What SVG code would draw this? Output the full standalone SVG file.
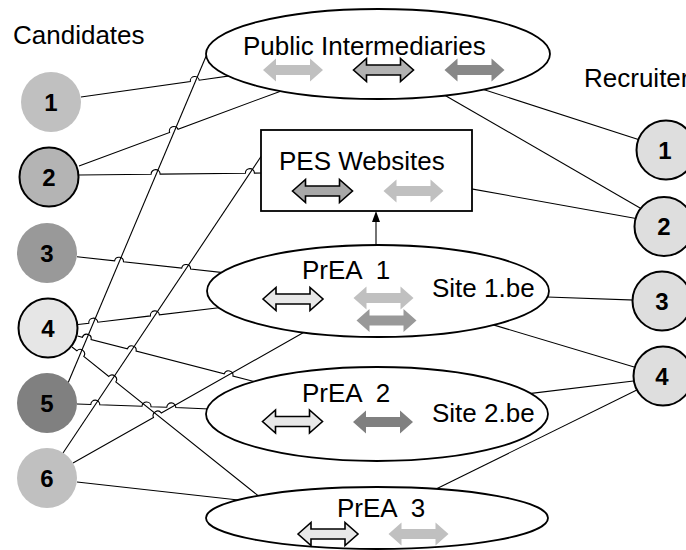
<svg xmlns="http://www.w3.org/2000/svg" xmlns:xlink="http://www.w3.org/1999/xlink" width="686" height="550" viewBox="0 0 686 550">
  <style>
    .lbl { font-family: "Liberation Sans", Arial, sans-serif; font-size: 26px; fill: #000; }
    .num { font-family: "Liberation Sans", Arial, sans-serif; font-size: 24px; font-weight: bold; fill: #000; text-anchor: middle; }
    .edge { fill: none; stroke: #000; stroke-width: 1.1; }
    .shape { fill: #fff; stroke: #000; stroke-width: 1.8; }
    .ring { stroke: #000; stroke-width: 2; }
    .out { stroke: #000; stroke-width: 1.6; stroke-linejoin: miter; }
  </style>
  <defs>
    <!-- two-headed arrow glyph, centred on the origin -->
    <path id="dbl" d="M-30,0 L-17,-11.5 L-17,-5 L17,-5 L17,-11.5 L30,0 L17,11.5 L17,5 L-17,5 L-17,11.5 Z"/>
  </defs>
  <rect width="686" height="550" fill="#fff"/>

  <!-- connectors (hops mark where a line passes over another) -->
  <g id="connectors" class="edge">
    <path d="M81,97 L190.3,81.5 A4.5,4.5 0 0 1 199.2,80.2 L235,75.1"/>
    <path d="M79,166 L169.6,132.4 A4.5,4.5 0 0 1 178,129.2 L284,89.9"/>
    <path d="M79,175 L151.1,174.2 A4.5,4.5 0 0 1 160.1,174.1 L245.4,173.2 A4.5,4.5 0 0 1 254.4,173.1 L263,173"/>
    <path d="M77,256.7 L114.6,260.8 A4.5,4.5 0 0 1 123.5,261.8 L181.7,268.1 A4.5,4.5 0 0 1 190.6,269.1 L230,273.4"/>
    <path d="M78,324.5 L88.8,323.2 A4.5,4.5 0 0 1 97.8,322.2 L150.4,315.9 A4.5,4.5 0 0 1 159.4,314.9 L225,307"/>
    <path d="M77.5,336 L82.4,337.3 A4.5,4.5 0 0 1 91.1,339.5 L127.4,348.9 A4.5,4.5 0 0 1 136.1,351.1 L224.2,373.9 A4.5,4.5 0 0 1 232.9,376.1 L262,383.6"/>
    <path d="M72,347 L76.8,350.8 A4.5,4.5 0 0 1 83.8,356.4 L108.8,376.4 A4.5,4.5 0 0 1 115.8,382 L262,498.8"/>
    <path d="M73,463 L153.5,417.4 A4.5,4.5 0 0 1 161.3,413 L315,326"/>
    <path d="M77,404 L90.8,404.5 A4.5,4.5 0 0 1 99.8,404.8 L142,406.3 A4.5,4.5 0 0 1 151,406.7 L166.8,407.2 A4.5,4.5 0 0 1 175.8,407.5 L215,409.2"/>
    <path d="M77,482 L245,500.7"/>
    <path d="M68,383 L207,54"/>
    <path d="M63,453 L263,153.5"/>
    <path d="M478,87.7 L660,146.4"/>
    <path d="M440,92.4 L650,213.7"/>
    <path d="M470,188.6 L650,221"/>
    <path d="M540,296.7 L650,300.6"/>
    <path d="M490,323.9 L650,371.8"/>
    <path d="M525,394.1 L650,379"/>
    <path d="M430,491.9 L650,383.6"/>
    <path d="M376,245 L376,221"/>
    <polygon points="376,211 372,222 380,222" fill="#000" stroke="none"/>
  </g>

  <text class="lbl" x="13" y="44">Candidates</text>
  <text class="lbl" x="584" y="87">Recruiters</text>

  <g id="public-intermediaries">
    <ellipse class="shape" cx="378" cy="54" rx="172" ry="45"/>
    <text class="lbl" x="243" y="55">Public Intermediaries</text>
    <use xlink:href="#dbl" x="293" y="70" fill="#c0c0c0"/>
    <use xlink:href="#dbl" x="383.5" y="70" fill="#b2b2b2" class="out"/>
    <use xlink:href="#dbl" x="474.5" y="70" fill="#888888"/>
  </g>

  <g id="pes-websites">
    <rect class="shape" x="261" y="130" width="211" height="81"/>
    <text class="lbl" x="279" y="170">PES Websites</text>
    <use xlink:href="#dbl" x="322.5" y="191" fill="#a8a8a8" class="out"/>
    <use xlink:href="#dbl" x="413.5" y="191" fill="#c0c0c0"/>
  </g>

  <g id="prea-1">
    <ellipse class="shape" cx="378" cy="291" rx="171" ry="46"/>
    <text class="lbl" x="302" y="279" xml:space="preserve">PrEA  1</text>
    <text class="lbl" x="432" y="297">Site 1.be</text>
    <use xlink:href="#dbl" x="293" y="299" fill="#e8e8e8" class="out"/>
    <use xlink:href="#dbl" x="383.5" y="298" fill="#c0c0c0"/>
    <use xlink:href="#dbl" x="386.5" y="320.5" fill="#999999"/>
  </g>

  <g id="prea-2">
    <ellipse class="shape" cx="377" cy="414" rx="171" ry="47"/>
    <text class="lbl" x="302" y="402" xml:space="preserve">PrEA  2</text>
    <text class="lbl" x="432" y="422">Site 2.be</text>
    <use xlink:href="#dbl" x="292.5" y="421.5" fill="#e8e8e8" class="out"/>
    <use xlink:href="#dbl" x="383" y="422" fill="#808080"/>
  </g>

  <g id="prea-3">
    <ellipse class="shape" cx="377" cy="518" rx="171" ry="31"/>
    <text class="lbl" x="337" y="517" xml:space="preserve">PrEA  3</text>
    <use xlink:href="#dbl" x="328" y="534" fill="#e8e8e8" class="out"/>
    <use xlink:href="#dbl" x="418.5" y="534" fill="#c0c0c0"/>
  </g>

  <!-- candidates -->
  <g id="candidate-1"><circle cx="51" cy="102" r="30" fill="#c0c0c0"/><text class="num" x="51" y="110.5">1</text></g>
  <g id="candidate-2"><circle class="ring" cx="49" cy="177" r="29.5" fill="#b4b4b4"/><text class="num" x="49" y="185.5">2</text></g>
  <g id="candidate-3"><circle cx="47" cy="253" r="30" fill="#999999"/><text class="num" x="47" y="261.5">3</text></g>
  <g id="candidate-4"><circle class="ring" cx="48" cy="328" r="29.5" fill="#e6e6e6"/><text class="num" x="48" y="336.5">4</text></g>
  <g id="candidate-5"><circle cx="47" cy="403" r="30" fill="#808080"/><text class="num" x="47" y="411.5">5</text></g>
  <g id="candidate-6"><circle cx="47" cy="478" r="30" fill="#c0c0c0"/><text class="num" x="47" y="486.5">6</text></g>

  <!-- recruiters -->
  <g id="recruiter-1"><circle class="ring" cx="666" cy="150" r="29.5" fill="#dedede"/><text class="num" x="665" y="158.5">1</text></g>
  <g id="recruiter-2"><circle class="ring" cx="664" cy="226.5" r="29.5" fill="#dedede"/><text class="num" x="664" y="235">2</text></g>
  <g id="recruiter-3"><circle class="ring" cx="662" cy="301" r="29.5" fill="#dedede"/><text class="num" x="662" y="309.5">3</text></g>
  <g id="recruiter-4"><circle class="ring" cx="663" cy="376" r="29.5" fill="#dedede"/><text class="num" x="662" y="384.5">4</text></g>
</svg>
